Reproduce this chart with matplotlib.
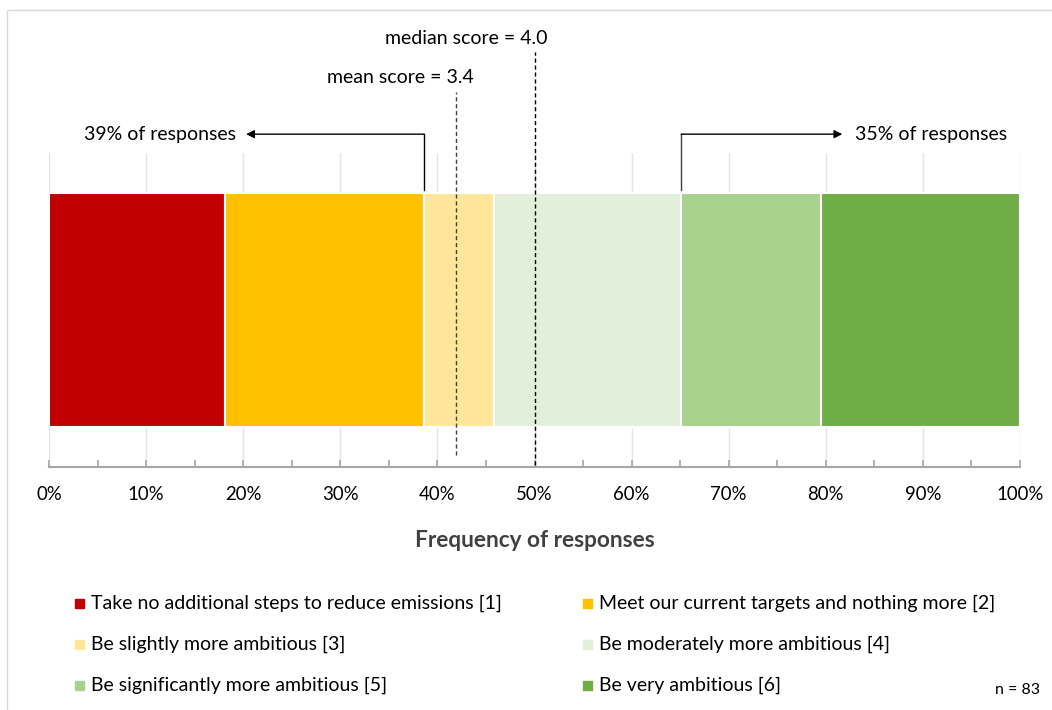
import matplotlib
matplotlib.use("Agg")
import matplotlib.pyplot as plt
from matplotlib.patches import Rectangle
import numpy as np

# response counts per answer (n = 83)
labels = [
    "Take no additional steps to reduce emissions [1]",
    "Meet our current targets and nothing more [2]",
    "Be slightly more ambitious [3]",
    "Be moderately more ambitious [4]",
    "Be significantly more ambitious [5]",
    "Be very ambitious [6]",
]
shares = [18.1, 20.5, 7.2, 19.3, 14.4, 20.5]
colors = ["#C00000", "#FFC000", "#FFE699", "#E2EFDA", "#A9D18E", "#70AD47"]

mean_score = 3.4
median_score = 4.0
mean_pos = 41.9
median_pos = 50.0
left_share = 39
right_share = 35
n_resp = 83

plt.rcParams["font.family"] = ["Lato", "DejaVu Sans"]
FS = 14

W, H = 1052, 710
fig = plt.figure(figsize=(W / 100, H / 100), dpi=100)

# outer chart border (only top/left visible in the original crop)
fig.patches.append(Rectangle((7 / W, -0.05), 1.2, (H - 10) / H + 0.05,
                             transform=fig.transFigure, fill=False,
                             edgecolor="#D9D9D9", lw=1))

ax = fig.add_axes([49 / W, 1 - 467 / H, (1020 - 49) / W, (467 - 153) / H])

lefts = np.concatenate([[0], np.cumsum(shares)[:-1]])
for s, l, c in zip(shares, lefts, colors):
    ax.barh(0.5, s, left=l, height=0.745, color=c, edgecolor="white",
            linewidth=1.5, zorder=2)

ax.set_xlim(0, 100)
ax.set_ylim(0, 1)
ax.set_yticks([])
ax.set_xticks(np.arange(0, 101, 10))
ax.set_xticks(np.arange(5, 100, 10), minor=True)
ax.set_xticklabels([f"{v}%" for v in range(0, 101, 10)], fontsize=13.4)
ax.tick_params(axis="x", which="both", direction="in", length=5,
               color="#A6A6A6", width=1.2, pad=14)
ax.grid(axis="x", which="major", color="#E1E4EA", lw=1, zorder=0)
for sp in ["top", "left", "right"]:
    ax.spines[sp].set_visible(False)
ax.spines["bottom"].set_color("#A6A6A6")
ax.spines["bottom"].set_linewidth(1.5)
ax.set_xlabel("Frequency of responses", fontsize=16.3, fontweight="bold",
              color="#404040", labelpad=19)

# mean / median markers
trans = ax.get_xaxis_transform()
ax.plot([mean_pos, mean_pos], [0.038, 1.194], transform=trans, ls=(0, (3, 2)),
        color="#404040", lw=1, clip_on=False, zorder=3)
ax.plot([median_pos, median_pos], [0.006, 1.322], transform=trans, ls=(0, (3, 2)),
        color="black", lw=1, clip_on=False, zorder=3)
ax.text(mean_pos + 1.8, 1.212, f"mean score = {mean_score:.1f}", transform=trans,
        ha="right", va="bottom", fontsize=FS)
ax.text(median_pos + 1.3, 1.338, f"median score = {median_score:.1f}", transform=trans,
        ha="right", va="bottom", fontsize=FS)

# bracket arrows
cum = np.cumsum(shares)
ax.plot([cum[1], cum[1]], [0.882, 1.06], transform=trans, color="black", lw=1,
        clip_on=False)
ax.annotate("", xy=(20.3, 1.06), xytext=(cum[1], 1.06), xycoords=trans,
            arrowprops=dict(arrowstyle="-|>", color="black", lw=1,
                            mutation_scale=12, shrinkA=0, shrinkB=0),
            annotation_clip=False)
ax.text(19.3, 1.06, f"{left_share}% of responses", transform=trans,
        ha="right", va="center", fontsize=FS)

ax.plot([cum[3], cum[3]], [0.882, 1.06], transform=trans, color="#404040", lw=1,
        clip_on=False)
ax.annotate("", xy=(81.7, 1.06), xytext=(cum[3], 1.06), xycoords=trans,
            arrowprops=dict(arrowstyle="-|>", color="black", lw=1,
                            mutation_scale=12, shrinkA=0, shrinkB=0),
            annotation_clip=False)
ax.text(83.0, 1.06, f"{right_share}% of responses", transform=trans,
        ha="left", va="center", fontsize=FS)

# legend laid out as in the source (row-major, two columns)
col_x = [75, 583]
row_y = [603, 644, 685]
for i, (lab, c) in enumerate(zip(labels, colors)):
    x0 = col_x[i % 2]
    y0 = row_y[i // 2]
    fig.patches.append(Rectangle((x0 / W, 1 - (y0 + 4.5) / H), 9 / W, 9 / H,
                                 transform=fig.transFigure, color=c))
    fig.text((x0 + 16) / W, 1 - y0 / H, lab, ha="left", va="center", fontsize=FS)

fig.text(1040 / W, 1 - 690 / H, f"n = {n_resp}", ha="right", va="center",
         fontsize=11.5)

fig.savefig("out.png", dpi=100, facecolor="white")
